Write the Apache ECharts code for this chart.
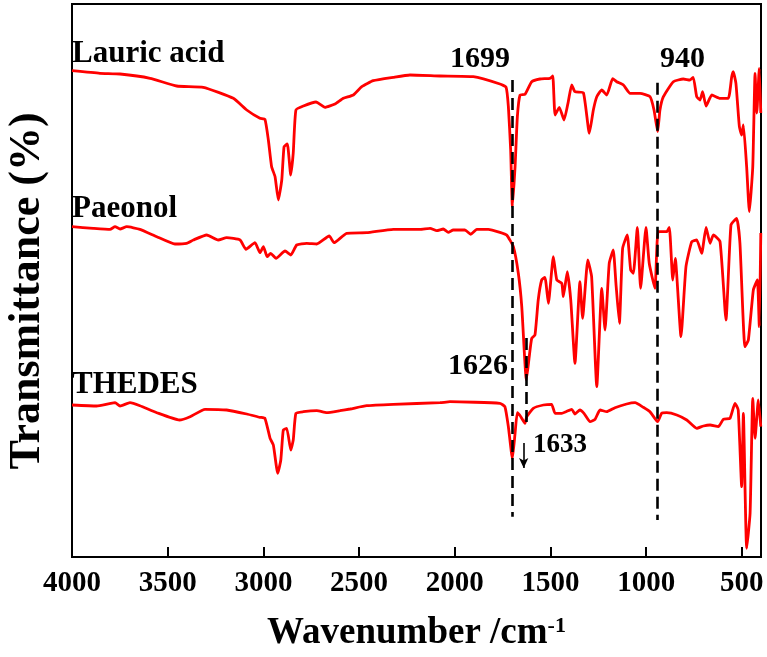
<!DOCTYPE html>
<html>
<head>
<meta charset="utf-8">
<script src="https://cdn.jsdelivr.net/npm/echarts@6/dist/echarts.min.js"></script>
<style>html,body{margin:0;padding:0;background:#fff}#c{width:767px;height:657px}</style>
</head>
<body>
<div id="c"></div>
<script>
// Tick labels on the wavenumber axis
const xTicks = [4000, 3500, 3000, 2500, 2000, 1500, 1000, 500];

// Spectra: [wavenumber (cm-1), transmittance (arbitrary offset units)]
const lauricAcid = [
 [4000,486.3],[3854,483.7],[3749,483],[3592,478.7],[3453,471],[3314,469.7],[3157,458.7],[3087,447],
 [3018,438.7],[2992,437.7],[2974,417],[2957,390.3],[2939,380.3],[2922,357],[2904,377],[2892,410.3],
 [2875,413],[2857,382],[2844,404],[2830,447],[2791,451],[2725,455],[2678,449.7],[2626,453],
 [2582,458.7],[2530,462],[2486,470.3],[2426,476.3],[2321,479.7],[2234,482],[2077,481],[1903,480.3],
 [1764,473],[1732,469.7],[1720,450.3],[1708,407],[1699,350.3],[1685,390.3],[1673,440.3],[1659,462],
 [1633,462.7],[1598,475.3],[1555,478],[1502,478.7],[1488,481],[1476,442],[1454,449.7],[1429,437],
 [1407,455.3],[1389,472],[1372,465.3],[1328,464.3],[1297,423.7],[1276,447],[1258,460.3],[1232,467],
 [1206,462],[1175,478.3],[1154,475.3],[1119,472],[1084,463.7],[1032,463.7],[980,460.3],[959,447],
 [940,425.3],[928,447],[910,460.3],[858,475.3],[806,478],[771,477],[754,479.7],[736,460.3],
 [719,457],[705,465.3],[687,451],[657,462],[614,458.7],[571,458.7],[553,480.3],[545,485.3],
 [531,473.7],[513,430.3],[501,422],[492,432],[475,390.3],[461,345.3],[443,390.3],[431,483.7],
 [422,444],[409,488.7],[401,444]
];
const paeonol = [
 [4000,330.3],[3889,328.7],[3801,327.7],[3775,330.3],[3749,328],[3714,330.3],[3645,327.7],[3557,320.3],
 [3462,313],[3401,313.7],[3366,317],[3296,322],[3236,317],[3192,319.3],[3122,317],[3091,307.7],
 [3044,314.3],[3018,304.3],[3000,310.3],[2980,300.3],[2962,303.7],[2934,298.7],[2887,306],[2857,302],
 [2826,312],[2774,313.7],[2721,313],[2656,321],[2631,314.3],[2565,323.7],[2460,324.3],[2321,327.7],
 [2182,327.7],[2129,328.7],[2094,326.3],[2060,328],[2034,324.7],[2008,327],[1947,327],[1917,322.7],
 [1885,327.7],[1825,327.7],[1764,324.7],[1729,322],[1694,310.3],[1668,283.7],[1650,250.3],[1626,177],
 [1611,200.3],[1598,218.7],[1581,222],[1564,257],[1546,277],[1529,279.7],[1511,253.7],[1485,300.3],
 [1467,277],[1441,273.7],[1433,260.3],[1412,285.3],[1394,257],[1372,193.7],[1346,275.3],[1332,238.7],
 [1305,297],[1285,280.3],[1258,170.3],[1232,268.7],[1215,227],[1193,293.7],[1172,307],[1158,273.7],
 [1140,233.7],[1123,308.7],[1099,322],[1081,287],[1067,283.7],[1046,329.7],[1029,268.7],[1001,329.7],
 [984,293.7],[954,268.7],[937,325.3],[893,325.3],[879,329.7],[861,277],[848,298.7],[818,220.3],
 [792,290.3],[762,315.3],[736,317],[710,303.7],[687,329.7],[666,313.7],[649,322],[614,315.3],
 [583,237],[557,332],[527,338.7],[510,313.7],[484,210.3],[466,217],[440,267],[419,277],
 [409,230.3],[401,324]
];
const thedes = [
 [4000,152],[3871,151],[3775,154.3],[3749,151],[3697,154.3],[3645,151.3],[3557,144.3],[3439,137],
 [3383,140.3],[3305,147.7],[3192,147],[3087,143],[3018,139.7],[2992,138.7],[2965,118.7],[2948,112],
 [2925,83.7],[2909,97],[2896,127],[2878,128.7],[2857,107],[2844,117],[2830,143.7],[2791,145.3],
 [2721,146.3],[2669,144.3],[2600,146.3],[2547,148],[2460,151.3],[2321,152.7],[2077,154.3],[2025,155.3],
 [1764,153.7],[1738,150.3],[1720,130.3],[1699,98.7],[1685,123.7],[1673,144.3],[1655,140.3],[1633,133.7],
 [1624,140.3],[1590,148.7],[1537,152],[1494,152.7],[1476,143.7],[1441,143.7],[1419,145.3],[1389,147.7],
 [1372,143],[1346,147],[1325,143.7],[1293,135.3],[1267,137.7],[1241,147],[1206,145.3],[1163,149.3],
 [1102,153],[1058,154.3],[1015,149.7],[980,145.3],[940,135.3],[919,143.7],[893,144.3],[840,142],
 [788,137],[736,128.7],[701,131],[666,132],[623,130.3],[597,137.7],[562,138.7],[536,153.7],
 [519,147],[501,70.3],[492,143.7],[475,8.7],[457,43.7],[443,158.7],[431,118.7],[414,157],
 [401,130.3]
];

// Annotation text: [wavenumber, level, text]
const curveNames = [[4000,503,'Lauric acid'],[4000,348,'Paeonol'],[4000,172,'THEDES']];
const peakLabels = [[1868,498,'1699'],[810,498,'940'],[1879,190.5,'1626']];
const smallLabels = [[1450,111.5,'1633']];
// Marker lines: [wavenumber, from level, to level]
const dashedLines = [[1699,477,40.3],[940,474.3,37],[1626,219,132]];
const arrows = [[1640,114,89]];

const FONT = '"Liberation Serif","Times New Roman",serif';
const chart = echarts.init(document.getElementById('c'), null, {renderer:'canvas'});

function lineSeries(name, data){
  return {name, type:'line', data, symbol:'none', showSymbol:false, silent:true, smooth:0.15,
    lineStyle:{color:'#ff0000', width:2.8}, z:3, animation:false};
}
function textItems(arr, size, align){
  return arr.map(d => ({value:[d[0], d[1]], name:d[2],
    label:{show:true, formatter:d[2], position:'inside', align, verticalAlign:'middle', opacity:1,
      fontFamily:FONT, fontWeight:'bold', fontSize:size, color:'#000', textBorderWidth:0}}));
}
function textSeries(items){
  return {type:'scatter', symbolSize:0, silent:true, z:5, itemStyle:{opacity:1, color:'#000'},
    emphasis:{disabled:true}, data:items};
}

chart.setOption({
  animation:false,
  grid:{left:72, right:6, top:4, bottom:100, show:true, borderColor:'#000', borderWidth:2, backgroundColor:'transparent'},
  xAxis:{type:'value', inverse:true, min:400, max:4000,
    axisLine:{show:true, lineStyle:{color:'#000', width:2}},
    axisTick:{show:true, inside:true, length:10, lineStyle:{color:'#000', width:2}, customValues:xTicks},
    axisLabel:{show:true, customValues:xTicks, formatter:v => String(v), margin:12, color:'#000',
      fontFamily:FONT, fontWeight:'bold', fontSize:29},
    splitLine:{show:false},
    name:'{a|Wavenumber /cm}{b|-1}', nameLocation:'middle', nameGap:58,
    nameTextStyle:{rich:{
      a:{fontFamily:FONT, fontWeight:'bold', fontSize:37, color:'#000'},
      b:{fontFamily:FONT, fontWeight:'bold', fontSize:22, color:'#000', verticalAlign:'top'}
    }}
  },
  yAxis:{type:'value', min:0, max:553, axisLine:{show:false}, axisTick:{show:false}, axisLabel:{show:false}, splitLine:{show:false}},
  graphic:[{type:'text', x:28, y:291, rotation:Math.PI/2, silent:true,
    style:{text:'Transmittance (%)', font:'bold 44px '+FONT, fill:'#000', textAlign:'center', textVerticalAlign:'middle'}}],
  series:[
    lineSeries('Lauric acid', lauricAcid),
    lineSeries('Paeonol', paeonol),
    lineSeries('THEDES', thedes),
    {type:'line', data:[], silent:true, z:2,
      markLine:{silent:true, symbol:['none','none'], animation:false,
        lineStyle:{color:'#000', width:2.6, type:[12,6]}, label:{show:false},
        data: dashedLines.map(d => [{coord:[d[0], d[1]]},{coord:[d[0], d[2]]}])}},
    {type:'line', data:[], silent:true, z:4,
      markLine:{silent:true, symbol:['none','arrow'], symbolSize:[7,10], animation:false,
        lineStyle:{color:'#000', width:1.6, type:'solid'}, label:{show:false},
        data: arrows.map(d => [{coord:[d[0], d[1]]},{coord:[d[0], d[2]]}])}},
    textSeries(textItems(curveNames, 31, 'left')),
    textSeries(textItems(peakLabels, 30, 'center')),
    textSeries(textItems(smallLabels, 27, 'center'))
  ]
});
</script>
</body>
</html>
